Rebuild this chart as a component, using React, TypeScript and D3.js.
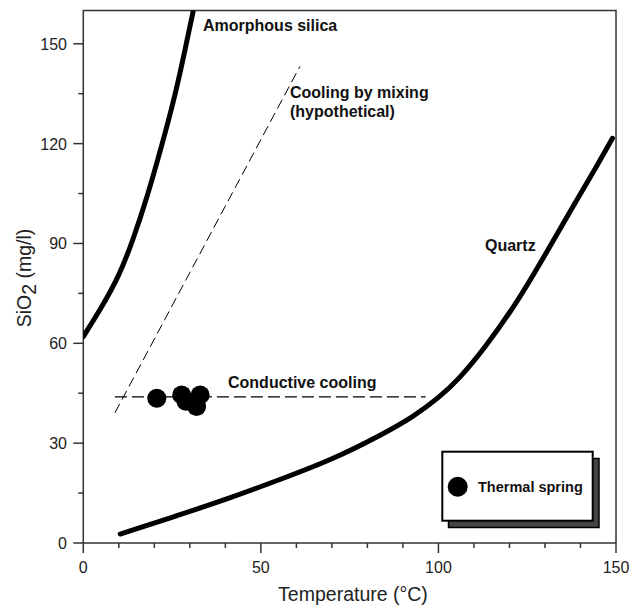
import React from "react";
import * as d3 from "d3";

const xTicksMajor = [0, 50, 100, 150];
const xTicksMinor = [10, 20, 30, 40, 60, 70, 80, 90, 110, 120, 130, 140];
const yTicksMajor = [0, 30, 60, 90, 120, 150];
const yTicksMinor = [15, 45, 75, 105, 135];

const amorphousT = [0, 5, 10, 14, 18, 22, 26, 29, 31, 32];
const amorphousV = [62, 70.5, 80, 91, 104, 119, 135, 150, 160, 165.5];

const quartzT = [10.4, 27, 41, 55, 70, 84, 93, 100, 106, 113, 122, 130, 137, 145, 149];
const quartzV = [2.7, 8.4, 13.4, 18.9, 25, 32.5, 38, 43.5, 49.5, 58.5, 72, 86.5, 99.5, 114, 121.6];

const mixingT = [8.9, 61.0];
const mixingV = [39.1, 143.2];

const conductiveT = [8.9, 96.4];
const conductiveV = [43.9, 43.9];

const springT = [20.7, 27.7, 28.9, 32.9, 31.9];
const springV = [43.5, 44.5, 42.6, 44.5, 41.0];

const FONT = "'Liberation Sans', Arial, Helvetica, sans-serif";

export default function App() {
  const W = 633, H = 608;
  const left = 83.3, right = 616, top = 10.5, bottom = 543;
  const x = d3.scaleLinear().domain([0, 150]).range([left, right]);
  const y = d3.scaleLinear().domain([0, 160]).range([bottom, top]);

  const line = d3
    .line<[number, number]>()
    .x((d) => x(d[0]))
    .y((d) => y(d[1]))
    .curve(d3.curveBasis);
  const straight = d3
    .line<[number, number]>()
    .x((d) => x(d[0]))
    .y((d) => y(d[1]));

  const amorph = amorphousT.map((t, i) => [t, amorphousV[i]] as [number, number]);
  const quartz = quartzT.map((t, i) => [t, quartzV[i]] as [number, number]);
  const mixing = mixingT.map((t, i) => [t, mixingV[i]] as [number, number]);
  const conductive = conductiveT.map((t, i) => [t, conductiveV[i]] as [number, number]);

  const axisColor = "#333";

  return (
    <svg
      width={W}
      height={H}
      style={{ position: "absolute", left: 0, top: 0, background: "#fff" }}
      fontFamily={FONT}
    >
      <defs>
        <clipPath id="plot">
          <rect x={left} y={top} width={right - left} height={bottom - top} />
        </clipPath>
      </defs>
      <rect x={0} y={0} width={W} height={H} fill="#fff" />

      {/* frame */}
      <rect
        x={left}
        y={top}
        width={right - left}
        height={bottom - top}
        fill="none"
        stroke={axisColor}
        strokeWidth={1.5}
      />

      {/* x ticks */}
      {xTicksMajor.map((t) => (
        <g key={"xm" + t}>
          <line x1={x(t)} x2={x(t)} y1={bottom} y2={bottom + 10} stroke={axisColor} strokeWidth={1.5} />
          <text x={x(t)} y={573} textAnchor="middle" fontSize={16} fill="#222">
            {t}
          </text>
        </g>
      ))}
      {xTicksMinor.map((t) => (
        <line key={"xn" + t} x1={x(t)} x2={x(t)} y1={bottom} y2={bottom + 5} stroke={axisColor} strokeWidth={1.5} />
      ))}

      {/* y ticks */}
      {yTicksMajor.map((t) => (
        <g key={"ym" + t}>
          <line x1={left - 10} x2={left} y1={y(t)} y2={y(t)} stroke={axisColor} strokeWidth={1.5} />
          <text x={67} y={y(t) + 6} textAnchor="end" fontSize={16} fill="#222">
            {t}
          </text>
        </g>
      ))}
      {yTicksMinor.map((t) => (
        <line key={"yn" + t} x1={left - 5} x2={left} y1={y(t)} y2={y(t)} stroke={axisColor} strokeWidth={1.5} />
      ))}

      {/* axis titles */}
      <text x={353} y={601} textAnchor="middle" fontSize={19.5} fill="#222">
        Temperature (°C)
      </text>
      <text
        transform={`translate(31,278) rotate(-90)`}
        textAnchor="middle"
        fontSize={19.5}
        fill="#222"
      >
        SiO<tspan dy={5}>2</tspan>
        <tspan dy={-5}> (mg/l)</tspan>
      </text>

      <g clipPath="url(#plot)">
        {/* curves */}
        <path d={line(amorph) || ""} fill="none" stroke="#000" strokeWidth={5} strokeLinecap="round" />
        <path d={line(quartz) || ""} fill="none" stroke="#000" strokeWidth={5} strokeLinecap="round" />
        <path d={straight(mixing) || ""} fill="none" stroke="#000" strokeWidth={1} strokeDasharray="10,5" />
        <path d={straight(conductive) || ""} fill="none" stroke="#000" strokeWidth={1.2} strokeDasharray="12,5" />

        {/* points */}
        {springT.map((t, i) => (
          <circle key={"p" + i} cx={x(t)} cy={y(springV[i])} r={9.5} fill="#000" />
        ))}
      </g>

      {/* labels */}
      <text x={203} y={31} fontSize={16} fontWeight="bold" fill="#111">
        Amorphous silica
      </text>
      <text x={290} y={98} fontSize={16} fontWeight="bold" fill="#111">
        Cooling by mixing
      </text>
      <text x={290} y={117} fontSize={16} fontWeight="bold" fill="#111">
        (hypothetical)
      </text>
      <text x={485} y={251} fontSize={16} fontWeight="bold" fill="#111">
        Quartz
      </text>
      <text x={228} y={388} fontSize={16} fontWeight="bold" fill="#111">
        Conductive cooling
      </text>

      {/* legend */}
      <rect x={448.5} y={458.5} width={150.5} height={69} fill="#444" stroke="#000" strokeWidth={1.5} />
      <rect x={442.3} y={451.7} width={150.4} height={69} fill="#fff" stroke="#000" strokeWidth={2} />
      <circle cx={457.7} cy={486.7} r={10} fill="#000" />
      <text x={478} y={492} fontSize={14.5} fontWeight="bold" fill="#111">
        Thermal spring
      </text>
    </svg>
  );
}
